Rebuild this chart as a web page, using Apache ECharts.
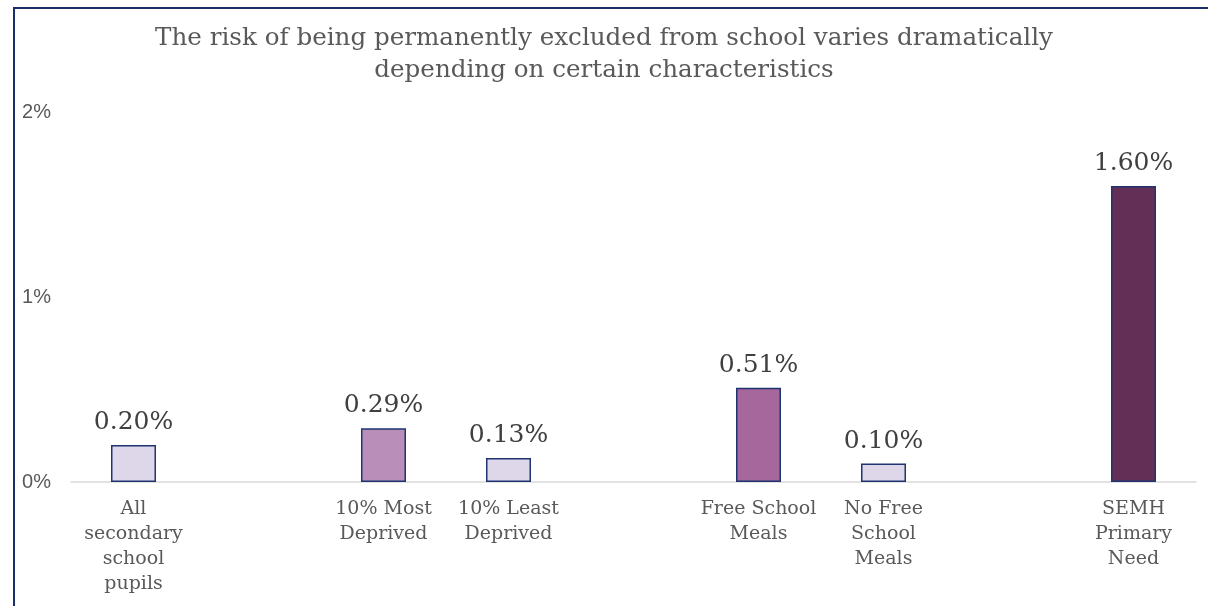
<!DOCTYPE html>
<html>
<head>
<meta charset="utf-8">
<script src="https://cdn.jsdelivr.net/npm/echarts@6/dist/echarts.min.js"></script>
<style>
html,body{margin:0;padding:0;background:#fff;}
#frame{position:absolute;left:13px;top:7px;right:0;bottom:0;border-top:2px solid #1b2f66;border-left:2px solid #1b2f66;}
#chart{position:absolute;left:0;top:0;width:1208px;height:606px;}
</style>
</head>
<body>
<div id="frame"></div>
<div id="chart"></div>
<script>
const titleText = 'The risk of being permanently excluded from school varies dramatically\ndepending on certain characteristics';
const categories = ['All\nsecondary\nschool\npupils', '', '10% Most\nDeprived', '10% Least\nDeprived', '', 'Free School\nMeals', 'No Free\nSchool\nMeals', '', 'SEMH\nPrimary\nNeed'];
const values = [0.20, null, 0.29, 0.13, null, 0.51, 0.10, null, 1.60];
const barColors = ['#ded6e9', null, '#b98fba', '#ded6e9', null, '#a5679c', '#ded6e9', null, '#642f56'];
const yTicks = [0, 1, 2];

const serif = '"DejaVu Serif", serif';
const chart = echarts.init(document.getElementById('chart'), null, {renderer: 'canvas'});
chart.setOption({
  backgroundColor: 'transparent',
  animation: false,
  title: {
    text: titleText,
    left: 'center',
    top: 18,
    textStyle: {fontFamily: serif, fontSize: 24.6, fontWeight: 'normal', color: '#595959', lineHeight: 32}
  },
  grid: {left: 71, right: 12, top: 112, bottom: 124, containLabel: false},
  xAxis: {
    type: 'category',
    data: categories,
    axisTick: {show: false},
    axisLine: {lineStyle: {color: '#d9d9d9', width: 1.5}},
    axisLabel: {interval: 0, fontFamily: serif, fontSize: 19, color: '#595959', lineHeight: 25, margin: 15}
  },
  yAxis: {
    type: 'value',
    min: yTicks[0],
    max: yTicks[yTicks.length - 1],
    interval: 1,
    splitLine: {show: false},
    axisLine: {show: false},
    axisTick: {show: false},
    axisLabel: {fontFamily: '"Liberation Sans", Arial, sans-serif', fontSize: 20, color: '#595959', margin: 20, formatter: v => v + '%'}
  },
  series: [{
    type: 'bar',
    barWidth: 45,
    data: values.map((v, i) => v == null ? null : {value: v, itemStyle: {color: barColors[i]}}),
    itemStyle: {borderColor: '#1f3470', borderWidth: 1.5},
    label: {show: true, position: 'top', distance: 10, fontFamily: serif, fontSize: 25, color: '#404040', formatter: p => p.value.toFixed(2) + '%'}
  }]
});
</script>
</body>
</html>
